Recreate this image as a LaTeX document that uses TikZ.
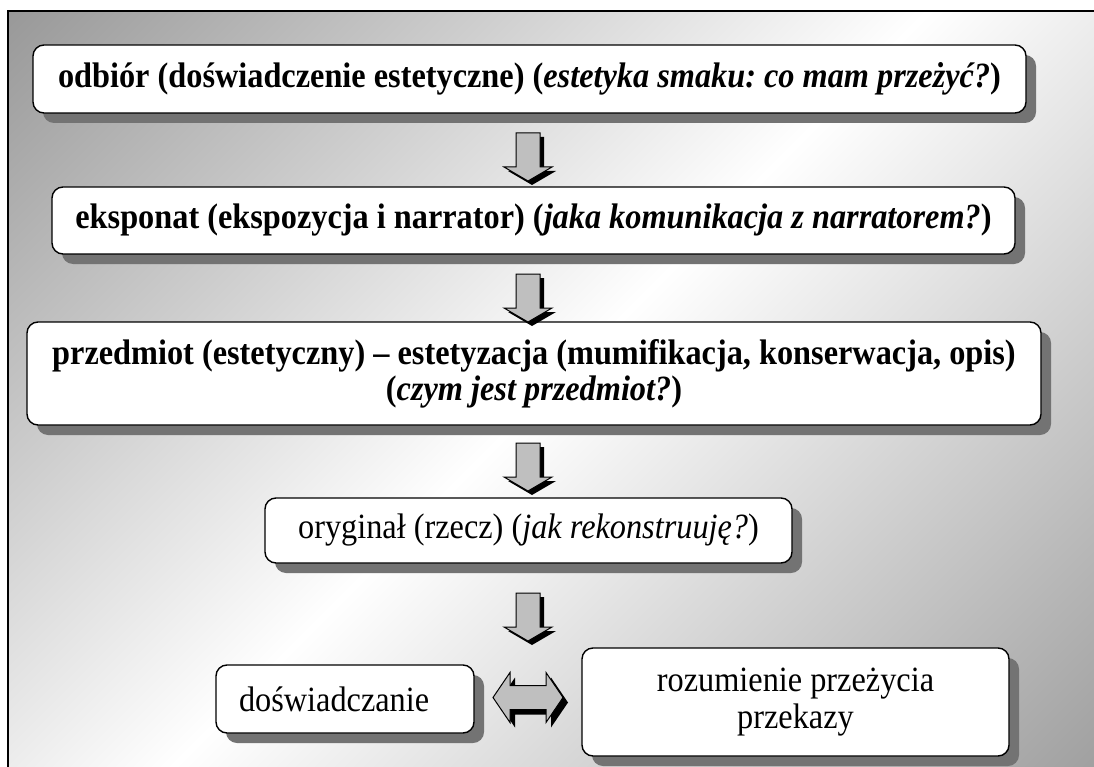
\documentclass[tikz,border=0pt]{standalone}
\usepackage{fontspec}
\setmainfont{Liberation Serif}[FakeStretch=0.91]
\usetikzlibrary{shadows}
\frenchspacing
\pgfdeclarehorizontalshading{panelgrad}{100bp}{color(0bp)=(black!42); color(14.6bp)=(black!40); color(50bp)=(white); color(85.4bp)=(black!37); color(100bp)=(black!40)}
\begin{document}
\begin{tikzpicture}[x=1pt,y=1pt,
  box/.style={draw=black, line width=1.4pt, fill=white, rounded corners=11pt, inner sep=0pt, align=center,
     drop shadow={shadow xshift=10pt, shadow yshift=-10pt, fill=black!55, opacity=1}},
  boldtxt/.style={font=\bfseries\fontsize{35.5}{36}\selectfont},
  regtxt/.style={font=\fontsize{35.5}{36.5}\selectfont},
  arrfill/.style={fill=black!25, draw=black, line width=1pt, line join=miter},
  downarr/.pic={
    \fill[black, shift={(4,-4)}] (-12,0) -- (12,0) -- (12,-34) -- (24,-34) -- (0,-48) -- (-24,-34) -- (-12,-34) -- cycle;
    \path[arrfill] (-12,0) -- (12,0) -- (12,-34) -- (24,-34) -- (0,-48) -- (-24,-34) -- (-12,-34) -- cycle;
  },
  duoarr/.pic={
    \fill[black, shift={(5,-5)}] (-35,0) -- (-18,25) -- (-18,12) -- (18,12) -- (18,25) -- (35,0) -- (18,-25) -- (18,-12) -- (-18,-12) -- (-18,-25) -- cycle;
    \path[arrfill] (-35,0) -- (-18,25) -- (-18,12) -- (18,12) -- (18,25) -- (35,0) -- (18,-25) -- (18,-12) -- (-18,-12) -- (-18,-25) -- cycle;
  }]
\useasboundingbox (0,0) rectangle (1094,-767);
% panel
\fill[shading=panelgrad, shading angle=-45] (8,-11) rectangle (1094,-767);
\draw[line width=1.5pt] (8,-767) -- (8,-11) -- (1094,-11);

% boxes
\node[box, boldtxt, minimum width=993pt, minimum height=68pt] (b1) at (529.5,-79)
  {odbiór (doświadczenie estetyczne) (\textit{estetyka smaku: co mam przeżyć?})};
\node[box, boldtxt, minimum width=963pt, minimum height=67pt] (b2) at (533.5,-220.5)
  {eksponat (ekspozycja i narrator) (\textit{jaka komunikacja z narratorem?})};
\node[box, boldtxt, minimum width=1014pt, minimum height=103pt] (b3) at (534,-373.5)
  {przedmiot (estetyczny) – estetyzacja (mumifikacja, konserwacja, opis)\\(\textit{czym jest przedmiot?})};
\node[box, regtxt, minimum width=527pt, minimum height=65pt] (b4) at (528.5,-530.5)
  {oryginał (rzecz) (\textit{jak rekonstruuję?})};
\node[box, regtxt, minimum width=258pt, minimum height=68pt, text width=212pt, align=left] (b5) at (345,-699)
  {doświadczanie};
\node[box, regtxt, minimum width=427pt, minimum height=108pt] (b6) at (795.5,-702)
  {rozumienie przeżycia\\przekazy};

% block arrows
\coordinate (a1) at (528,-133);
\coordinate (a2) at (528,-274);
\coordinate (a3) at (528,-443);
\coordinate (a4) at (528,-593);
\coordinate (a5) at (528,-697.5);
\pic at (a1) {downarr};
\pic at (a2) {downarr};
\pic at (a3) {downarr};
\pic at (a4) {downarr};
\pic at (a5) {duoarr};
\end{tikzpicture}
\end{document}
